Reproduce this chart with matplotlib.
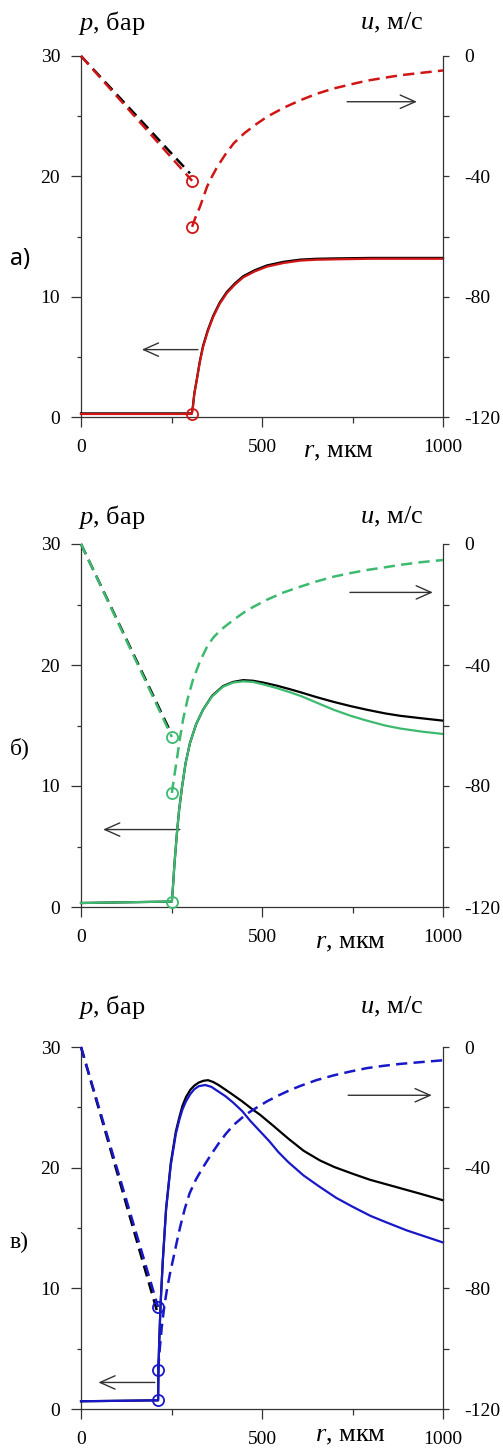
import matplotlib.pyplot as plt
import numpy as np

plt.rcParams['font.family'] = ['Liberation Serif', 'DejaVu Serif']
plt.rcParams['mathtext.fontset'] = 'custom'
plt.rcParams['mathtext.it'] = 'Liberation Serif:italic'
plt.rcParams['mathtext.rm'] = 'Liberation Serif'
plt.rcParams['axes.unicode_minus'] = False

# ---- panel a (red) ----
r_pa = [0, 306, 309, 313, 320, 328, 337, 350, 365, 383, 403, 425, 448, 480, 514, 560,
        606, 650, 700, 800, 1000]
p_a = [0.25, 0.25, 0.8, 1.9, 3.1, 4.5, 5.8, 7.1, 8.3, 9.4, 10.3, 11.0, 11.6, 12.1, 12.5, 12.8,
       13.0, 13.07, 13.1, 13.15, 13.15]
p_a_ref = [0.3, 0.3, 0.85, 1.95, 3.15, 4.6, 5.9, 7.2, 8.4, 9.5, 10.4, 11.1, 11.7, 12.2, 12.6, 12.9,
           13.08, 13.15, 13.18, 13.22, 13.22]
ru_a_in = [0, 307]
u_a_in = [0, -41.5]
ru_a_in_ref = [0, 301]
u_a_in_ref = [0, -39.0]
ru_a_out = [307, 315, 329, 348, 360, 376, 400, 422, 450, 480, 514, 560, 606, 650, 698, 750,
            790, 840, 882, 940, 1000]
u_a_out = [-56.8, -54, -50, -43.5, -40.5, -36.9, -32.5, -29, -25.8, -23, -20.2, -17.2, -14.7,
           -12.6, -10.8, -9.3, -8.2, -7.2, -6.4, -5.6, -4.8]

# ---- panel b (green) ----
r_pb = [0, 251, 254, 258, 265, 271, 279, 289, 301, 318, 337, 362, 392, 420, 448, 475, 503,
        540, 577, 606, 650, 698, 745, 790, 840, 882, 940, 1000]
p_b = [0.33, 0.45, 1.65, 3.5, 6.1, 8.0, 9.9, 11.9, 13.55, 15.1, 16.3, 17.4, 18.2, 18.55, 18.65,
       18.6, 18.4, 18.1, 17.75, 17.45, 16.9, 16.3, 15.8, 15.4, 15.0, 14.75, 14.5, 14.3]
p_b_ref = [0.33, 0.45, 1.65, 3.5, 6.1, 8.0, 9.9, 11.9, 13.55, 15.1, 16.3, 17.45, 18.25, 18.6,
           18.75, 18.7, 18.55, 18.3, 18.0, 17.75, 17.35, 16.95, 16.6, 16.3, 16.0, 15.8, 15.6, 15.4]
ru_b_in = [0, 251]
u_b_in = [0, -63.8]
ru_b_in_ref = [0, 248]
u_b_in_ref = [0, -62.3]
ru_b_out = [251, 258, 265, 273, 282, 295, 309, 328, 348, 365, 385, 422, 460, 514, 560, 606,
            650, 698, 745, 790, 840, 882, 940, 1000]
u_b_out = [-82.3, -76.5, -71, -64.5, -58, -51, -45, -39, -34, -31, -28.5, -25, -21.8, -18.4,
           -16.0, -14.1, -12.4, -10.8, -9.6, -8.6, -7.7, -6.9, -6.0, -5.3]

# ---- panel c (blue) ----
r_pc = [0, 213, 214, 216, 220, 226, 235, 248, 262, 271, 280, 290, 302, 313, 325, 343, 360,
        380, 400, 420, 445, 467, 495, 520, 545, 573, 615, 660, 705, 751, 800, 845, 900, 950, 1000]
p_c = [0.64, 0.72, 3.3, 5.5, 8.8, 12.3, 16.5, 20.2, 22.8, 23.9, 24.8, 25.5, 26.1, 26.5, 26.75,
       26.85, 26.7, 26.3, 25.9, 25.4, 24.7, 23.9, 23.0, 22.2, 21.3, 20.45, 19.35, 18.4, 17.5,
       16.75, 16.0, 15.45, 14.8, 14.3, 13.8]
r_pc_ref = [0, 213, 214, 216, 220, 226, 235, 248, 262, 271, 280, 290, 302, 313, 325, 338, 351,
            365, 380, 412, 445, 475, 494, 530, 573, 615, 660, 700, 750, 798, 870, 936, 1000]
p_c_ref = [0.64, 0.72, 3.3, 5.5, 8.8, 12.3, 16.6, 20.4, 23.0, 24.1, 25.1, 25.85, 26.45, 26.8,
           27.05, 27.2, 27.25, 27.1, 26.85, 26.2, 25.5, 24.8, 24.4, 23.5, 22.4, 21.4, 20.6,
           20.05, 19.5, 19.0, 18.4, 17.85, 17.3]
ru_c_in = [0, 213]
u_c_in = [0, -86.2]
ru_c_in_ref = [0, 211]
u_c_in_ref = [0, -88]
ru_c_out = [213, 218, 223, 230, 238, 246, 254, 264, 274, 287, 300, 318, 337, 358, 380, 400,
            422, 455, 485, 514, 545, 577, 606, 650, 698, 745, 790, 835, 882, 940, 1000]
u_c_out = [-107, -99.5, -93, -86, -80, -75, -70.6, -65, -59.6, -53.5, -48.5, -43.8, -39.9,
           -35.9, -32.0, -28.8, -25.8, -22.4, -20.1, -18.0, -16.1, -14.3, -12.9, -11.0, -9.4,
           -8.1, -7.0, -6.25, -5.6, -5.0, -4.4]

panels = [
    dict(label="а)", lfont="Noto Sans", color="#d01515", r_p=r_pa, p=p_a, r_p_ref=r_pa, p_ref=p_a_ref,
         ru_in=ru_a_in, u_in=u_a_in, ru_in_ref=ru_a_in_ref, u_in_ref=u_a_in_ref,
         ru_out=ru_a_out, u_out=u_a_out,
         top=56, bottom=417, arr_r=(735, 928, 26.2), arr_l=(323, 168, 5.6),
         ylab=23, rlab=(303, 452), plab=259),
    dict(label="б)", lfont="Liberation Serif", color="#3dba70", r_p=r_pb, p=p_b, r_p_ref=r_pb, p_ref=p_b_ref,
         ru_in=ru_b_in, u_in=u_b_in, ru_in_ref=ru_b_in_ref, u_in_ref=u_b_in_ref,
         ru_out=ru_b_out, u_out=u_b_out,
         top=544, bottom=907, arr_r=(743, 972, 26.0), arr_l=(273, 61, 6.4),
         ylab=517, rlab=(315, 943), plab=748),
    dict(label="в)", lfont="Liberation Serif", color="#1818c8", r_p=r_pc, p=p_c, r_p_ref=r_pc_ref, p_ref=p_c_ref,
         ru_in=ru_c_in, u_in=u_c_in, ru_in_ref=ru_c_in_ref, u_in_ref=u_c_in_ref,
         ru_out=ru_c_out, u_out=u_c_out,
         top=1047, bottom=1409, arr_r=(738, 969, 26.0), arr_l=(204, 48, 2.2),
         ylab=1007, rlab=(315, 1436), plab=1242),
]

W, H = 503, 1452
fig = plt.figure(figsize=(W / 100, H / 100), dpi=100)

axis_col = "#333333"
dash = (4.5, 2.5)
tick_fs = 14
lab_fs = 19

for pn in panels:
    ax = fig.add_axes([81 / W, 1 - pn["bottom"] / H, 362 / W, (pn["bottom"] - pn["top"]) / H])
    ax2 = ax.twinx()
    col = pn["color"]

    # pressure (solid)
    ax.plot(pn["r_p_ref"], pn["p_ref"], color="black", lw=1.6, clip_on=False, zorder=3)
    ax.plot(pn["r_p"], pn["p"], color=col, lw=1.6, clip_on=False, zorder=4)
    ax.plot(pn["r_p"][1], pn["p"][1], "o", mfc="none", mec=col, ms=8, mew=1.3,
            clip_on=False, zorder=5)

    # velocity (dashed)
    ax2.plot(pn["ru_in_ref"], pn["u_in_ref"], color="black", lw=1.8, dashes=dash,
             clip_on=False, zorder=3)
    ax2.plot(pn["ru_in"], pn["u_in"], color=col, lw=1.8, dashes=dash, clip_on=False, zorder=4)
    ax2.plot(pn["ru_out"], pn["u_out"], color=col, lw=1.8, dashes=dash, clip_on=False, zorder=4)
    ax2.plot(pn["ru_in"][-1], pn["u_in"][-1], "o", mfc="none", mec=col, ms=8, mew=1.3,
             clip_on=False, zorder=5)
    ax2.plot(pn["ru_out"][0], pn["u_out"][0], "o", mfc="none", mec=col, ms=8, mew=1.3,
             clip_on=False, zorder=5)

    # arrows
    for a0, a1, ay in (pn["arr_r"], pn["arr_l"]):
        ax.annotate("", xy=(a1, ay), xytext=(a0, ay),
                    arrowprops=dict(arrowstyle="->,head_length=0.45,head_width=0.2",
                                    color=axis_col, lw=1.0, mutation_scale=24,
                                    shrinkA=0, shrinkB=0))

    ax.set_xlim(0, 1000)
    ax.set_ylim(0, 30)
    ax2.set_ylim(-120, 0)
    ax.set_xticks([0, 500, 1000])
    ax.set_xticks([250, 750], minor=True)
    ax.set_yticks([0, 10, 20, 30])
    ax.set_yticks([5, 15, 25], minor=True)
    ax2.set_yticks([-120, -80, -40, 0])
    ax2.set_yticks([-100, -60, -20], minor=True)

    for a in (ax, ax2):
        a.spines["top"].set_visible(False)
        for s in a.spines.values():
            s.set_color(axis_col)
            s.set_linewidth(0.9)
    ax.spines["right"].set_visible(False)
    ax2.spines["left"].set_visible(False)
    ax2.spines["bottom"].set_visible(False)

    ax.tick_params(axis="x", which="major", direction="out", length=7, width=0.9,
                   color=axis_col, labelsize=tick_fs, pad=9)
    ax.tick_params(axis="x", which="minor", direction="out", length=4, width=0.9, color=axis_col)
    ax.tick_params(axis="y", which="major", direction="out", length=7, width=0.9,
                   color=axis_col, labelsize=tick_fs, pad=8)
    ax.tick_params(axis="y", which="minor", direction="out", length=3, width=0.9, color=axis_col)
    ax2.tick_params(axis="y", which="major", direction="out", length=4, width=0.9,
                    color=axis_col, labelsize=tick_fs, pad=11)
    ax2.tick_params(axis="y", which="minor", direction="out", length=4, width=0.9, color=axis_col)

    # axis titles
    fig.text(78 / W, 1 - pn["ylab"] / H, r"$p$, бар", fontsize=lab_fs, ha="left", va="center")
    fig.text(423 / W, 1 - pn["ylab"] / H, r"$u$, м/с", fontsize=lab_fs, ha="right", va="center")
    fig.text(pn["rlab"][0] / W, 1 - pn["rlab"][1] / H, r"$r$, мкм", fontsize=lab_fs,
             ha="left", va="center")
    fig.text(10 / W, 1 - pn["plab"] / H, pn["label"], fontsize=17, ha="left", va="center",
             family=pn["lfont"])

fig.savefig("out.png", dpi=100)
